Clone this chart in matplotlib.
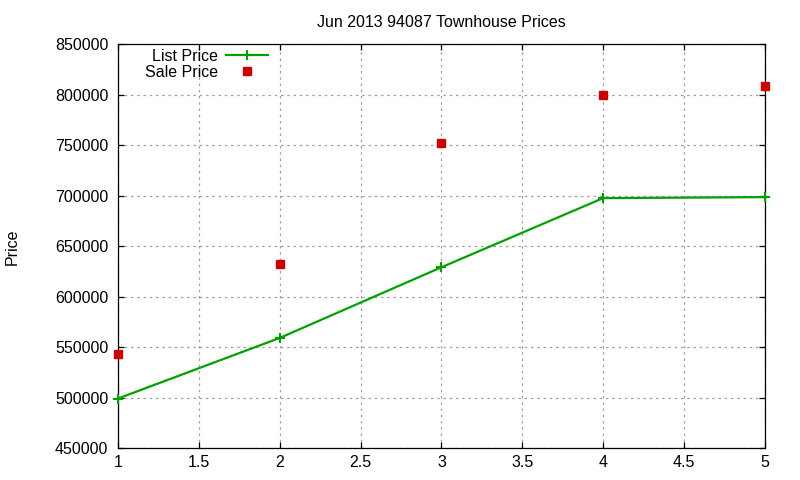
import matplotlib
matplotlib.use('Agg')
import matplotlib.pyplot as plt

# values
bedrooms = [1, 2, 3, 4, 5]
list_price = [499000, 559000, 629000, 697500, 698500]
sale_price = [543500, 632000, 752000, 800000, 808500]

plt.rcParams.update({
    'font.family': ['Liberation Sans', 'DejaVu Sans'],
    'font.size': 11.5,
})

fig = plt.figure(figsize=(8, 4.8), dpi=100)
ax = fig.add_axes([0.1475, 0.0667, 0.8085, 0.8413])

ax.plot(bedrooms, list_price, color='#00a000', linewidth=1.6, marker='+',
        markersize=7, markeredgewidth=1.5, label='List Price', clip_on=False, zorder=3)
ax.plot(bedrooms, sale_price, color='#cc0000', linestyle='none', marker='s',
        markersize=6, label='Sale Price', clip_on=False, zorder=4)

ax.set_xlim(1, 5)
ax.set_ylim(450000, 850000)
ax.set_xticks([1, 1.5, 2, 2.5, 3, 3.5, 4, 4.5, 5])
ax.set_xticklabels(['1', '1.5', '2', '2.5', '3', '3.5', '4', '4.5', '5'])
ax.set_yticks(range(450000, 850001, 50000))
ax.set_yticklabels([str(v) for v in range(450000, 850001, 50000)])

ax.grid(True, color='#a0a0a0', linestyle=(0, (2, 3)), linewidth=0.9)
ax.tick_params(direction='in', length=4, width=0.9, top=True, right=True)
ax.tick_params(axis='y', pad=7)
ax.tick_params(axis='x', pad=5)
for s in ax.spines.values():
    s.set_linewidth(0.9)

ax.set_title('Jun 2013 94087 Townhouse Prices', fontsize=11.5, pad=12)
fig.text(0.006, 0.485, 'Price', rotation=90, va='center', ha='left', fontsize=11.5)

leg = ax.legend(loc='upper right', bbox_to_anchor=(268 / 800, 1 - 49 / 480),
                bbox_transform=fig.transFigure, frameon=False,
                markerfirst=False, handlelength=2.6, borderaxespad=0, borderpad=0,
                labelspacing=0.05, handletextpad=0.5)
for t in leg.get_texts():
    t.set_ha('right')
leg._legend_box.align = 'right'

fig.savefig('out.png', dpi=100)
